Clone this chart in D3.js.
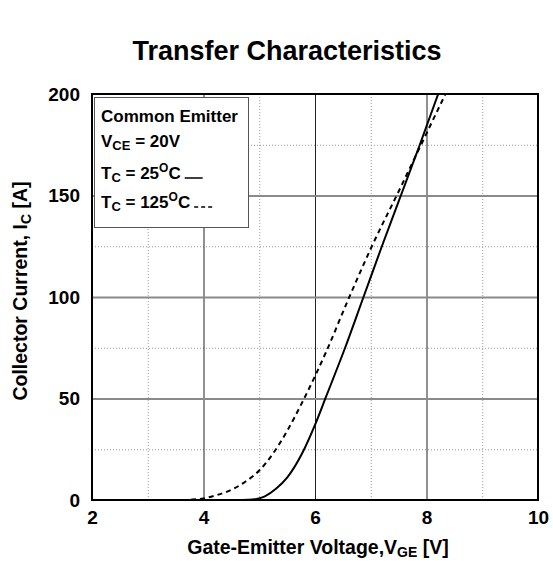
<!DOCTYPE html>
<html>
<head>
<meta charset="utf-8">
<script src="https://cdn.jsdelivr.net/npm/d3@7"></script>
<style>
  html, body { margin: 0; padding: 0; background: #fff; }
  svg { display: block; font-family: "Liberation Sans", Arial, sans-serif; font-weight: bold; }
</style>
</head>
<body>
<svg id="chart" width="553" height="561"></svg>
<script>
// Gate voltage (V) and collector current (A), Tc = 25 °C
const vge25 = [2, 3, 4, 4.6, 4.8, 4.95, 5.1, 5.3, 5.5, 5.77, 6.0, 6.2, 6.54, 6.87, 7.2, 7.54, 7.88, 8.21];
const ic25  = [0, 0, 0, 0, 0.1, 0.5, 1.8, 5.5, 11, 23, 37, 51, 75, 100, 125, 150, 175, 200];

// Gate voltage (V) and collector current (A), Tc = 125 °C
const vge125 = [2, 3, 3.6, 3.8, 4.0, 4.25, 4.5, 4.75, 5.0, 5.25, 5.5, 5.75, 6.0, 6.2, 6.6, 7.02, 7.5, 7.92, 8.34];
const ic125  = [0, 0, 0, 0.2, 0.8, 2.5, 5, 9, 14.5, 23, 34, 47, 61, 73, 99, 125, 152, 176, 200];

const xMajor = [2, 4, 6, 8, 10];
const xMinor = [3, 5, 7, 9];
const yMajor = [0, 50, 100, 150, 200];
const yMinor = [25, 75, 125, 175];

const svg = d3.select("#chart");
const L = 92, R = 538, T = 94, B = 500;

const x = d3.scaleLinear().domain([2, 10]).range([L, R]);
const y = d3.scaleLinear().domain([0, 200]).range([B, T]);

// Title
svg.append("text")
  .attr("x", 287).attr("y", 60)
  .attr("text-anchor", "middle")
  .attr("font-size", 27)
  .text("Transfer Characteristics");

// Minor dotted grid
svg.append("g")
  .attr("transform", `translate(0,${B})`)
  .call(d3.axisBottom(x).tickValues(xMinor).tickSize(-(B - T)).tickFormat(""))
  .call(g => g.select(".domain").remove())
  .call(g => g.selectAll("line").attr("stroke", "#9a9a9a").attr("stroke-width", 1).attr("stroke-dasharray", "1,2"));
svg.append("g")
  .attr("transform", `translate(${L},0)`)
  .call(d3.axisLeft(y).tickValues(yMinor).tickSize(-(R - L)).tickFormat(""))
  .call(g => g.select(".domain").remove())
  .call(g => g.selectAll("line").attr("stroke", "#9a9a9a").attr("stroke-width", 1).attr("stroke-dasharray", "1,2"));

// Major grid: vertical black, horizontal grey
svg.append("g")
  .attr("transform", `translate(0,${B})`)
  .call(d3.axisBottom(x).tickValues(xMajor.slice(1, -1)).tickSize(-(B - T)).tickFormat(""))
  .call(g => g.select(".domain").remove())
  .call(g => g.selectAll("line").attr("stroke", "#222").attr("stroke-width", 1));
svg.append("g")
  .attr("transform", `translate(${L},0)`)
  .call(d3.axisLeft(y).tickValues(yMajor.slice(1, -1)).tickSize(-(R - L)).tickFormat(""))
  .call(g => g.select(".domain").remove())
  .call(g => g.selectAll("line").attr("stroke", "#8a8a8a").attr("stroke-width", 2));

// Tick labels
svg.append("g")
  .attr("transform", `translate(0,${B})`)
  .call(d3.axisBottom(x).tickValues(xMajor).tickSize(0).tickPadding(11).tickFormat(d3.format("d")))
  .call(g => g.select(".domain").remove())
  .call(g => g.selectAll("text").attr("font-size", 19).attr("font-family", null).attr("fill", "#000"));
svg.append("g")
  .attr("transform", `translate(${L},0)`)
  .call(d3.axisLeft(y).tickValues(yMajor).tickSize(0).tickPadding(12).tickFormat(d3.format("d")))
  .call(g => g.select(".domain").remove())
  .call(g => g.selectAll("text").attr("font-size", 19).attr("font-family", null).attr("fill", "#000"));

// Curves
const line = d3.line().x(d => x(d[0])).y(d => y(d[1])).curve(d3.curveMonotoneX);
svg.append("clipPath").attr("id", "plot-clip")
  .append("rect").attr("x", L).attr("y", T).attr("width", R - L).attr("height", B - T);

svg.append("path")
  .datum(d3.zip(vge125, ic125))
  .attr("clip-path", "url(#plot-clip)")
  .attr("d", line)
  .attr("fill", "none").attr("stroke", "#000").attr("stroke-width", 2)
  .attr("stroke-dasharray", "5,4");
svg.append("path")
  .datum(d3.zip(vge25, ic25))
  .attr("clip-path", "url(#plot-clip)")
  .attr("d", line)
  .attr("fill", "none").attr("stroke", "#000").attr("stroke-width", 2);

// Plot frame
svg.append("rect")
  .attr("x", L).attr("y", T).attr("width", R - L).attr("height", B - T)
  .attr("fill", "none").attr("stroke", "#000").attr("stroke-width", 2);

// Legend box
const lg = svg.append("g");
lg.append("rect")
  .attr("x", 94.5).attr("y", 97.5).attr("width", 154).attr("height", 130)
  .attr("fill", "#fff").attr("stroke", "#555").attr("stroke-width", 1);
lg.append("text").attr("x", 101).attr("y", 122).attr("font-size", 17).text("Common Emitter");
const l2 = lg.append("text").attr("x", 101).attr("y", 147).attr("font-size", 17);
l2.append("tspan").text("V");
l2.append("tspan").attr("font-size", 13).attr("dy", 3).text("CE");
l2.append("tspan").attr("dy", -3).text(" = 20V");

function tcLine(yPos, temp) {
  const t = lg.append("text").attr("x", 101).attr("y", yPos).attr("font-size", 17);
  t.append("tspan").text("T");
  t.append("tspan").attr("font-size", 13).attr("dy", 3).text("C");
  t.append("tspan").attr("dy", -3).text(" = " + temp);
  t.append("tspan").attr("font-size", 12).attr("dy", -7).text("O");
  t.append("tspan").attr("dy", 7).text("C");
  return 101 + t.node().getComputedTextLength();
}
const end25 = tcLine(179, "25");
const end125 = tcLine(208, "125");
lg.append("line").attr("x1", end25 + 4).attr("x2", end25 + 22).attr("y1", 178).attr("y2", 178)
  .attr("stroke", "#000").attr("stroke-width", 1.5);
lg.append("line").attr("x1", end125 + 4).attr("x2", end125 + 22).attr("y1", 207).attr("y2", 207)
  .attr("stroke", "#000").attr("stroke-width", 1.5).attr("stroke-dasharray", "4,3");

// Axis titles
const xt = svg.append("text")
  .attr("x", 318).attr("y", 554)
  .attr("text-anchor", "middle")
  .attr("font-size", 19.5);
xt.append("tspan").text("Gate-Emitter Voltage,V");
xt.append("tspan").attr("font-size", 14).attr("dy", 3).text("GE");
xt.append("tspan").attr("dy", -3).text(" [V]");

const yt = svg.append("text")
  .attr("transform", `translate(27,${(T + B) / 2 - 6}) rotate(-90)`)
  .attr("text-anchor", "middle")
  .attr("font-size", 19.5);
yt.append("tspan").text("Collector Current, I");
yt.append("tspan").attr("font-size", 14).attr("dy", 4).text("C");
yt.append("tspan").attr("dy", -4).text(" [A]");
</script>
</body>
</html>
